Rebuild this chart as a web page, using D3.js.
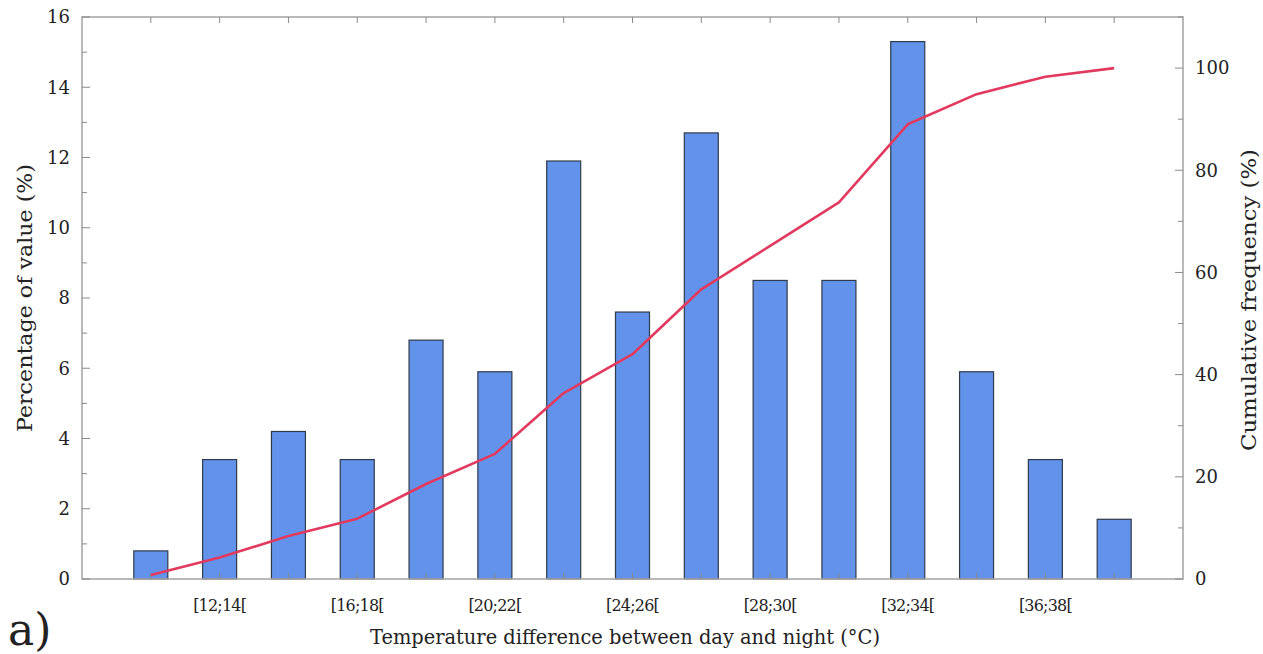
<!DOCTYPE html>
<html>
<head>
<meta charset="utf-8">
<script src="https://cdn.jsdelivr.net/npm/d3@7"></script>
<style>
  html, body { margin: 0; padding: 0; background: #fff; }
  svg { display: block; }
  text { font-family: "DejaVu Serif", serif; fill: #222; }
</style>
</head>
<body>
<svg id="chart" width="1263" height="654"></svg>
<script>
// Temperature classes (°C) of the day/night difference
const categories = ["[10;12[", "[12;14[", "[14;16[", "[16;18[", "[18;20[", "[20;22[", "[22;24[",
  "[24;26[", "[26;28[", "[28;30[", "[30;32[", "[32;34[", "[34;36[", "[36;38[", "[38;40["];
// Share of values falling in each class (%)
const percentValues = [0.8, 3.4, 4.2, 3.4, 6.8, 5.9, 11.9, 7.6, 12.7, 8.5, 8.5, 15.3, 5.9, 3.4, 1.7];
// Labels shown under the axis (every other class)
const xTickLabels = ["[12;14[", "[16;18[", "[20;22[", "[24;26[", "[28;30[", "[32;34[", "[36;38["];
const leftTicks = [0, 2, 4, 6, 8, 10, 12, 14, 16];
const rightTicks = [0, 20, 40, 60, 80, 100];

// Running total of the class shares
const cumulative = [];
percentValues.reduce((acc, v, i) => { cumulative[i] = +(acc + v).toFixed(1); return acc + v; }, 0);

const svg = d3.select("#chart");
const L = 82, R = 1183, T = 17, B = 579;

const x = d3.scalePoint().domain(categories).range([L, R]).padding(1);
const yL = d3.scaleLinear().domain([0, 16]).range([B, T]);
const yR = d3.scaleLinear().domain([0, 110]).range([B, T]);
const barW = 34;

const axisColor = "#a8a8a8";

// Bars
svg.append("g").selectAll("rect").data(percentValues).join("rect")
  .attr("x", (d, i) => x(categories[i]) - barW / 2)
  .attr("y", d => yL(d))
  .attr("width", barW)
  .attr("height", d => yL(0) - yL(d))
  .attr("fill", "#6392ea")
  .attr("stroke", "#2f3a4a")
  .attr("stroke-width", 1.2);

// Frame
svg.append("rect").attr("x", L).attr("y", T).attr("width", R - L).attr("height", B - T)
  .attr("fill", "none").attr("stroke", axisColor).attr("stroke-width", 1.6);

const ticks = svg.append("g").attr("stroke", "#8a8a8a").attr("stroke-width", 1);

// Left axis ticks (inward) with minor ticks at odd values
d3.range(0, 17).forEach(v => {
  const len = v % 2 === 0 ? 8 : 5;
  ticks.append("line").attr("x1", L).attr("x2", L + len).attr("y1", yL(v)).attr("y2", yL(v));
});
// Right axis ticks (inward) with minor ticks every 10
d3.range(0, 111, 10).forEach(v => {
  const len = v % 20 === 0 ? 8 : 5;
  ticks.append("line").attr("x1", R).attr("x2", R - len).attr("y1", yR(v)).attr("y2", yR(v));
});
// Top and bottom ticks at every class
categories.forEach(c => {
  ticks.append("line").attr("x1", x(c)).attr("x2", x(c)).attr("y1", B).attr("y2", B - 6);
  ticks.append("line").attr("x1", x(c)).attr("x2", x(c)).attr("y1", T).attr("y2", T + 6);
});

// Tick labels
svg.append("g").selectAll("text").data(leftTicks).join("text")
  .attr("x", L - 12).attr("y", d => yL(d)).attr("dy", "0.35em")
  .attr("text-anchor", "end").attr("font-size", 18).text(d => d);
svg.append("g").selectAll("text").data(rightTicks).join("text")
  .attr("x", R + 12).attr("y", d => yR(d)).attr("dy", "0.35em")
  .attr("text-anchor", "start").attr("font-size", 18).text(d => d);
svg.append("g").selectAll("text").data(xTickLabels).join("text")
  .attr("x", d => x(d)).attr("y", 611)
  .attr("text-anchor", "middle").attr("font-size", 16).attr("letter-spacing", -0.8).text(d => d);

// Cumulative frequency line
svg.append("path")
  .datum(cumulative)
  .attr("d", d3.line().x((d, i) => x(categories[i])).y(d => yR(d)))
  .attr("fill", "none").attr("stroke", "#e23a5e").attr("stroke-width", 2.6)
  .attr("stroke-linejoin", "round");

// Axis titles
svg.append("text").attr("x", 625).attr("y", 644).attr("text-anchor", "middle")
  .attr("font-size", 20).attr("textLength", 510).attr("lengthAdjust", "spacingAndGlyphs")
  .text("Temperature difference between day and night (°C)");
svg.append("text").attr("transform", "translate(32,298) rotate(-90)").attr("text-anchor", "middle")
  .attr("font-size", 21).attr("textLength", 268).attr("lengthAdjust", "spacingAndGlyphs")
  .text("Percentage of value (%)");
svg.append("text").attr("transform", "translate(1256,300) rotate(-90)").attr("text-anchor", "middle")
  .attr("font-size", 21).attr("textLength", 302).attr("lengthAdjust", "spacingAndGlyphs")
  .text("Cumulative frequency (%)");

// Panel label
svg.append("text").attr("x", 8).attr("y", 645).attr("font-size", 44).text("a)");
</script>
</body>
</html>
